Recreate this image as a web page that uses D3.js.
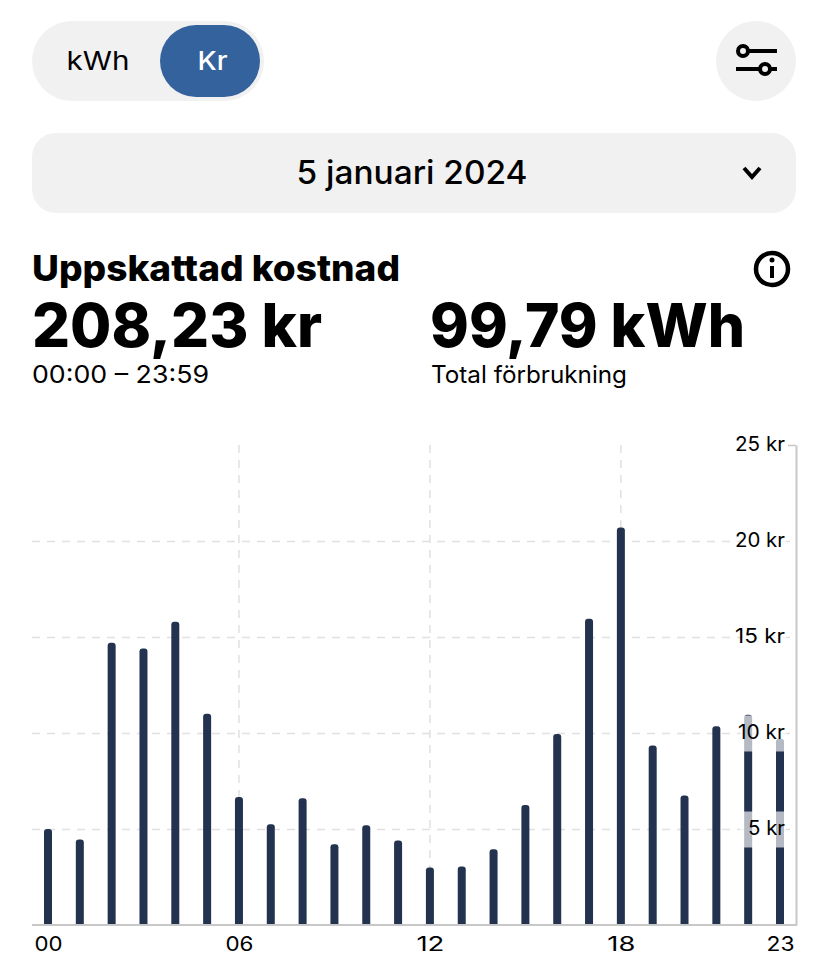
<!DOCTYPE html>
<html>
<head>
<meta charset="utf-8">
<script src="https://cdn.jsdelivr.net/npm/d3@7"></script>
<style>
  html, body { margin: 0; padding: 0; background: #fff; }
  svg { display: block; }
  text { font-family: Inter, "Liberation Sans", sans-serif; fill: #000; }
</style>
</head>
<body>
<div id="chart"></div>
<script>
// chart values
const hours = ["00","01","02","03","04","05","06","07","08","09","10","11","12","13","14","15","16","17","18","19","20","21","22","23"];
const costs = [5.0, 4.45, 14.7, 14.4, 15.8, 11.0, 6.67, 5.25, 6.6, 4.2, 5.2, 4.4, 3.0, 3.05, 3.95, 6.25, 9.95, 15.95, 20.7, 9.35, 6.75, 10.35, 10.95, 9.7];
const hourTicks = ["00","06","12","18","23"];
const hourGrid = ["06","12","18"];
const costTicks = [5, 10, 15, 20, 25];

const svg = d3.select("#chart").append("svg")
    .attr("width", 828)
    .attr("height", 970);

// text helper, textLength gets the wide look of the original font
function label(x, y, str, size, weight, len, anchor) {
    const t = svg.append("text")
        .attr("x", x)
        .attr("y", y)
        .attr("font-size", size)
        .attr("font-weight", weight)
        .attr("text-anchor", anchor || "start")
        .text(str);
    if (len) t.attr("textLength", len).attr("lengthAdjust", "spacingAndGlyphs");
    return t;
}

// Step 1: header controls
svg.append("rect").attr("x", 32).attr("y", 21).attr("width", 232).attr("height", 80).attr("rx", 40).attr("fill", "#f1f1f1");
svg.append("rect").attr("x", 160).attr("y", 25).attr("width", 100).attr("height", 72).attr("rx", 36).attr("fill", "#34629c");
label(98, 70, "kWh", 26, 400, 63, "middle");
label(212.5, 70, "Kr", 26, 500, 30, "middle").style("fill", "#fff");

svg.append("circle").attr("cx", 756).attr("cy", 61).attr("r", 40).attr("fill", "#f1f1f1");
const icon = svg.append("g").attr("fill", "none").attr("stroke", "#000").attr("stroke-width", 4);
icon.append("line").attr("x1", 749).attr("x2", 777).attr("y1", 51).attr("y2", 51);
icon.append("circle").attr("cx", 743).attr("cy", 51).attr("r", 5);
icon.append("line").attr("x1", 736).attr("x2", 759).attr("y1", 69).attr("y2", 69);
icon.append("line").attr("x1", 770).attr("x2", 777).attr("y1", 69).attr("y2", 69);
icon.append("circle").attr("cx", 765).attr("cy", 69).attr("r", 5);

svg.append("rect").attr("x", 32).attr("y", 133).attr("width", 764).attr("height", 80).attr("rx", 24).attr("fill", "#f1f1f1");
label(412, 184, "5 januari 2024", 32, 500, 231, "middle");
svg.append("path").attr("d", "M744 168L752 177L760 168").attr("fill", "none").attr("stroke", "#000").attr("stroke-width", 4);

// Step 2: summary texts
label(32, 281, "Uppskattad kostnad", 36, 800, 368);
label(32, 347, "208,23 kr", 60, 800, 290);
label(430, 347, "99,79 kWh", 60, 800, 315);
label(32, 383, "00:00 – 23:59", 24, 400, 177);
label(431, 383, "Total förbrukning", 24, 400, 196);

svg.append("circle").attr("cx", 772).attr("cy", 269).attr("r", 16).attr("fill", "none").attr("stroke", "#000").attr("stroke-width", 4.5);
svg.append("rect").attr("x", 770).attr("y", 266).attr("width", 4).attr("height", 12).attr("fill", "#000");
svg.append("circle").attr("cx", 772).attr("cy", 260).attr("r", 2.5).attr("fill", "#000");

// Step 3: scales
const xScale = d3.scalePoint().domain(hours).range([48, 780]);
const yScale = d3.scaleLinear().domain([0, 25]).range([925, 445]);

// Step 4: dashed grid, under the bars
const yGrid = svg.append("g")
    .attr("transform", "translate(796,0)")
    .call(d3.axisLeft(yScale).tickValues(costTicks).tickSize(764).tickFormat(""));
yGrid.select(".domain").remove();
yGrid.selectAll("line")
    .attr("stroke", "#e0e0e0")
    .attr("stroke-width", 1.5)
    .attr("stroke-dasharray", "8 7")
    .attr("stroke-dashoffset", 9);
yGrid.selectAll(".tick").filter(d => d === 25).select("line")
    .attr("x2", -8)
    .attr("stroke", "#c8c8c8")
    .attr("stroke-dasharray", null);

svg.selectAll("line.vgrid")
    .data(hourGrid)
    .enter()
    .append("line")
    .attr("class", "vgrid")
    .attr("x1", d => xScale(d))
    .attr("x2", d => xScale(d))
    .attr("y1", yScale(25))
    .attr("y2", yScale(0))
    .attr("stroke", "#e0e0e0")
    .attr("stroke-width", 1.5)
    .attr("stroke-dasharray", "8 7");

// Step 5: bars, rounded on top only
const barW = 8;
svg.selectAll("path.bar")
    .data(hours)
    .enter()
    .append("path")
    .attr("class", "bar")
    .attr("fill", "#23324f")
    .attr("d", (d, i) => {
        const x = xScale(d) - barW / 2;
        const y = yScale(costs[i]);
        return `M${x},${yScale(0)}V${y + 3}Q${x},${y} ${x + 3},${y}H${x + barW - 3}Q${x + barW},${y} ${x + barW},${y + 3}V${yScale(0)}Z`;
    });

// Step 6: axes
const yAxis = svg.append("g")
    .attr("transform", "translate(796,0)")
    .call(d3.axisLeft(yScale).tickValues(costTicks).tickSize(0).tickPadding(11).tickFormat(d => d + " kr"));
yAxis.select(".domain").attr("stroke", "#c8c8c8").attr("stroke-width", 2);

// half white plate behind each value label, it fades the bars below
yAxis.selectAll(".tick").insert("rect", "text")
    .attr("x", -56)
    .attr("y", -18)
    .attr("width", 46)
    .attr("height", 36)
    .attr("fill", "#fff")
    .attr("opacity", 0.66);
yAxis.selectAll(".tick text")
    .attr("font-size", 20)
    .attr("y", -1)
    .attr("textLength", function (d) { return d === 5 ? 37 : d === 10 ? 47 : 50; })
    .attr("lengthAdjust", "spacingAndGlyphs")
    .style("font-family", "Inter, sans-serif");

const xAxis = svg.append("g")
    .attr("transform", `translate(0,${yScale(0)})`)
    .call(d3.axisBottom(xScale).tickValues(hourTicks).tickSize(0).tickPadding(12));
xAxis.select(".domain").attr("stroke", "#c8c8c8").attr("stroke-width", 2).attr("d", "M32,0H797");
xAxis.selectAll(".tick text")
    .attr("font-size", 20)
    .attr("textLength", 28)
    .attr("lengthAdjust", "spacingAndGlyphs")
    .style("font-family", "Inter, sans-serif");
</script>
</body>
</html>
